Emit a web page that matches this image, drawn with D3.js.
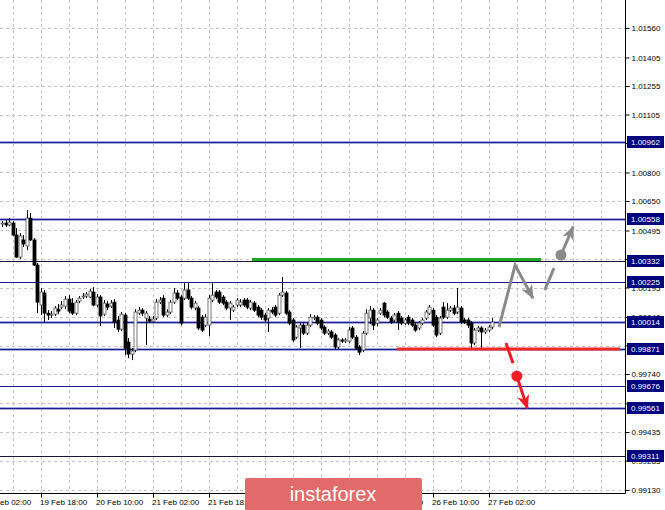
<!DOCTYPE html>
<html><head><meta charset="utf-8">
<script src="https://cdn.jsdelivr.net/npm/d3@7"></script>
<style>body{margin:0;background:#fff}svg{display:block}text{font-family:"Liberation Sans",Arial,sans-serif}</style>
</head><body><svg id="c" width="665" height="510"></svg>
<script>
// ---- data (H1 bars) ----
const opens=[1.00529,1.00534,1.00524,1.00534,1.00471,1.00355,1.00445,1.00413,1.00560,1.00445,
1.00313,1.00103,1.00166,1.00060,1.00050,1.00055,1.00081,1.00092,1.00097,1.00134,
1.00113,1.00060,1.00124,1.00145,1.00150,1.00145,1.00171,1.00103,1.00145,1.00055,
1.00108,1.00097,1.00118,1.00024,0.99976,1.00050,0.99908,0.99845,0.99866,1.00060,
1.00076,1.00034,1.00029,1.00018,1.00034,1.00118,1.00139,1.00050,1.00066,1.00118,
1.00166,1.00145,1.00139,1.00182,1.00139,1.00087,1.00087,1.00039,0.99997,0.99997,
1.00129,1.00171,1.00171,1.00145,1.00118,1.00087,1.00076,1.00103,1.00103,1.00129,
1.00129,1.00087,1.00113,1.00092,1.00076,1.00050,1.00034,1.00076,1.00092,1.00060,
1.00155,1.00166,1.00066,1.00024,0.99934,0.99982,0.99997,0.99955,0.99997,1.00034,
1.00039,1.00024,0.99987,0.99955,0.99961,0.99945,0.99882,0.99919,0.99913,0.99913,
0.99982,0.99934,0.99882,0.99866,0.99955,1.00034,1.00076,1.00008,1.00060,1.00113,
1.00066,1.00034,1.00024,1.00060,1.00034,1.00008,1.00039,1.00024,0.99997,0.99982,
1.00008,1.00034,1.00060,1.00076,1.00039,0.99955,1.00092,1.00039,1.00076,1.00087,
1.00066,1.00087,1.00024,1.00024,1.00008,0.99903,0.99971,0.99982,0.99961,0.99971,
0.99987];
const highs=[1.00545,1.00550,1.00560,1.00545,1.00508,1.00481,1.00471,1.00602,1.00587,1.00455,
1.00324,1.00192,1.00182,1.00076,1.00071,1.00097,1.00108,1.00124,1.00150,1.00155,
1.00139,1.00129,1.00150,1.00166,1.00171,1.00187,1.00197,1.00160,1.00155,1.00129,
1.00124,1.00129,1.00134,1.00045,1.00066,1.00060,0.99929,0.99876,1.00081,1.00092,
1.00087,1.00071,1.00045,1.00045,1.00134,1.00145,1.00155,1.00081,1.00129,1.00192,
1.00182,1.00155,1.00218,1.00218,1.00150,1.00124,1.00097,1.00050,1.00055,1.00155,
1.00224,1.00182,1.00182,1.00155,1.00129,1.00124,1.00103,1.00139,1.00134,1.00139,
1.00139,1.00129,1.00124,1.00103,1.00087,1.00060,1.00087,1.00092,1.00103,1.00166,
1.00250,1.00176,1.00076,1.00034,0.99997,1.00013,1.00008,1.00008,1.00055,1.00050,
1.00050,1.00034,0.99997,0.99976,0.99971,0.99955,0.99929,0.99929,0.99929,0.99987,
0.99992,0.99945,0.99892,0.99966,1.00081,1.00097,1.00087,1.00034,1.00087,1.00118,
1.00076,1.00045,1.00060,1.00071,1.00045,1.00034,1.00050,1.00034,1.00008,1.00018,
1.00034,1.00076,1.00103,1.00087,1.00050,1.00045,1.00118,1.00113,1.00097,1.00103,
1.00192,1.00097,1.00034,1.00034,1.00018,0.99982,0.99992,0.99992,0.99982,0.99997,
1.00034];
const lows=[1.00513,1.00513,1.00518,1.00466,1.00350,1.00345,1.00408,1.00392,1.00439,1.00308,
1.00060,1.00050,1.00013,1.00024,1.00034,1.00045,1.00055,1.00081,1.00081,1.00060,
1.00050,1.00050,1.00113,1.00134,1.00139,1.00139,1.00097,1.00092,0.99992,1.00045,
1.00076,1.00087,0.99982,0.99961,0.99966,0.99840,0.99824,0.99813,0.99855,1.00050,
1.00045,0.99892,1.00008,1.00008,1.00024,1.00108,1.00039,1.00039,1.00055,1.00108,
1.00129,0.99997,1.00129,1.00129,1.00081,1.00076,0.99971,0.99961,0.99987,0.99940,
1.00118,1.00134,1.00108,1.00103,1.00076,1.00024,1.00066,1.00092,1.00092,1.00092,
1.00081,1.00076,1.00066,1.00039,1.00024,1.00013,0.99961,1.00055,1.00039,1.00050,
1.00145,1.00050,0.99997,0.99908,0.99924,0.99876,0.99945,0.99945,0.99987,1.00024,
0.99997,0.99971,0.99945,0.99945,0.99924,0.99871,0.99871,0.99903,0.99903,0.99903,
0.99924,0.99866,0.99840,0.99855,0.99945,1.00003,0.99971,0.99992,1.00050,1.00039,
1.00029,1.00003,1.00013,0.99971,0.99997,0.99997,0.99997,0.99987,0.99961,0.99971,
0.99997,1.00024,1.00050,0.99987,0.99934,0.99945,1.00029,1.00029,1.00066,1.00050,
1.00055,1.00003,1.00003,0.99982,0.99876,0.99892,0.99961,0.99876,0.99950,0.99961,
0.99976];
const closes=[1.00534,1.00524,1.00539,1.00471,1.00355,1.00466,1.00424,1.00560,1.00445,1.00313,
1.00118,1.00171,1.00060,1.00050,1.00055,1.00087,1.00071,1.00103,1.00134,1.00071,
1.00060,1.00118,1.00139,1.00150,1.00160,1.00176,1.00103,1.00145,1.00045,1.00113,
1.00092,1.00113,1.00013,0.99976,1.00055,0.99876,0.99845,0.99861,1.00066,1.00076,
1.00060,1.00060,1.00018,1.00029,1.00118,1.00129,1.00050,1.00066,1.00118,1.00166,
1.00139,1.00008,1.00182,1.00139,1.00092,1.00113,0.99982,0.99971,1.00039,1.00139,
1.00155,1.00145,1.00118,1.00113,1.00087,1.00113,1.00092,1.00129,1.00118,1.00103,
1.00092,1.00118,1.00076,1.00050,1.00039,1.00024,1.00076,1.00066,1.00050,1.00155,
1.00171,1.00060,1.00008,0.99919,0.99987,0.99997,0.99955,0.99997,1.00039,1.00039,
1.00008,0.99982,0.99955,0.99966,0.99934,0.99882,0.99919,0.99913,0.99919,0.99971,
0.99934,0.99876,0.99855,0.99955,1.00060,1.00076,0.99997,1.00024,1.00076,1.00050,
1.00039,1.00013,1.00050,1.00013,1.00008,1.00024,1.00008,0.99997,0.99971,1.00008,
1.00024,1.00066,1.00092,0.99997,0.99945,1.00034,1.00039,1.00076,1.00087,1.00060,
1.00092,1.00013,1.00013,0.99997,0.99903,0.99971,0.99982,0.99961,0.99971,0.99987,
1.00013];

const yTickValues=[1.01560,1.01405,1.01255,1.01105,1.00955,1.00800,1.00650,1.00495,1.00345,1.00195,1.00040,0.99890,0.99740,0.99585,0.99435,0.99285,0.99130];
const xTickBars=[-5,11,27,43,59,75,91,107,123,139];
const xTickLabels=["19 Feb 02:00","19 Feb 18:00","20 Feb 10:00","21 Feb 02:00","21 Feb 18:00","22 Feb 10:00","25 Feb 02:00","25 Feb 18:00","26 Feb 10:00","27 Feb 02:00"];
const levels=[1.00962,1.00558,1.00332,1.00225,1.00014,0.99871,0.99676,0.99561,0.99311];
const greenLine=[[71.4,1.00342],[154,1.00342]];
const redLine=[[112.9,0.99871],[176.6,0.99871]];
const upPath=[[142,0.99987],[146.6,1.00313],[151.7,1.00139]];
const upDash=[[155.1,1.00182],[157.7,1.00297]];
const upDot=[159.7,1.00366];
const upArrow=[[159.7,1.00366],[163.2,1.00515]];
const downDash=[[144,0.99903],[146,0.99797]];
const downDot=[147.1,0.99729];
const downArrow=[[147.1,0.99729],[150.1,0.99560]];

// ---- layout ----
const svg=d3.select("#c");
const plotR=625, plotB=493;
const x=d3.scaleLinear().domain([0,178]).range([2,625]);
const y=d3.scaleLinear().domain([0.99130,1.01560]).range([490,28]);

svg.append("rect").attr("width",665).attr("height",510).attr("fill","#fff");
const defs=svg.append("defs");
defs.append("clipPath").attr("id","clip").append("rect").attr("x",0).attr("y",0).attr("width",plotR).attr("height",plotB);
function marker(id,color){
  defs.append("marker").attr("id",id).attr("markerUnits","userSpaceOnUse")
    .attr("viewBox","0 0 14 12").attr("markerWidth",14).attr("markerHeight",12)
    .attr("refX",13).attr("refY",6).attr("orient","auto")
    .append("path").attr("d","M0,0 L14,6 L0,12 L4,6 Z").attr("fill",color);
}
marker("ag","#8a8a8a"); marker("ar","#ee1c24");

const g=svg.append("g").attr("clip-path","url(#clip)");
// grid
const gridBars=d3.range(3,178,8);
g.selectAll(".vg").data(gridBars).join("line")
  .attr("x1",d=>Math.round(x(d))+0.5).attr("x2",d=>Math.round(x(d))+0.5).attr("y1",0).attr("y2",plotB)
  .attr("stroke","#c4c4c4").attr("stroke-dasharray","3,3");
g.selectAll(".hg").data(yTickValues).join("line")
  .attr("x1",0).attr("x2",plotR).attr("y1",d=>Math.round(y(d))+0.5).attr("y2",d=>Math.round(y(d))+0.5)
  .attr("stroke","#c4c4c4").attr("stroke-dasharray","3,3");

// level lines
const haloLevels=new Set([1.00962,1.00558,1.00014,0.99871,0.99561]);
const darkLevels=new Set([1.00332,0.99311]);
levels.forEach(v=>{
  const yy=Math.round(y(v))+0.5;
  if(haloLevels.has(v)) g.append("line").attr("x1",0).attr("x2",plotR).attr("y1",yy).attr("y2",yy)
      .attr("stroke","#a8a8e0").attr("stroke-width",3);
  g.append("line").attr("x1",0).attr("x2",plotR).attr("y1",yy).attr("y2",yy)
    .attr("stroke",darkLevels.has(v)?"#14143c":"#1e1e8c").attr("stroke-width",1);
});

// candles
const bars=opens.map((o,i)=>({i,o,h:highs[i],l:lows[i],c:closes[i]}));
const cg=g.append("g");
cg.selectAll(".wick").data(bars).join("line")
  .attr("x1",d=>Math.round(x(d.i))+0.5).attr("x2",d=>Math.round(x(d.i))+0.5)
  .attr("y1",d=>y(d.h)).attr("y2",d=>y(d.l)).attr("stroke","#000").attr("stroke-width",1);
cg.selectAll(".body").data(bars).join("rect")
  .attr("x",d=>Math.round(x(d.i))-1).attr("width",3)
  .attr("y",d=>y(Math.max(d.o,d.c))).attr("height",d=>Math.max(1,Math.abs(y(d.o)-y(d.c))))
  .attr("fill",d=>d.c>=d.o?"#fff":"#000").attr("stroke",d=>d.c>=d.o?"#555":"#000").attr("stroke-width",0.8);

// green & red lines
const line=d3.line().x(d=>x(d[0])).y(d=>y(d[1]));
g.append("path").attr("d",line(greenLine)).attr("stroke","#1fa81f").attr("stroke-width",3).attr("fill","none");
g.append("path").attr("d",line(redLine)).attr("stroke","#f02828").attr("stroke-width",3).attr("fill","none");

// scenario arrows
g.append("path").attr("d",line(upPath)).attr("stroke","#8a8a8a").attr("stroke-width",3).attr("fill","none")
  .attr("stroke-linejoin","miter").attr("marker-end","url(#ag)");
g.append("path").attr("d",line(upDash)).attr("stroke","#8a8a8a").attr("stroke-width",3);
g.append("path").attr("d",line(upArrow)).attr("stroke","#8a8a8a").attr("stroke-width",3).attr("marker-end","url(#ag)");
g.append("circle").attr("cx",x(upDot[0])).attr("cy",y(upDot[1])).attr("r",5.5).attr("fill","#8a8a8a");
g.append("path").attr("d",line(downDash)).attr("stroke","#ee1c24").attr("stroke-width",3);
g.append("path").attr("d",line(downArrow)).attr("stroke","#ee1c24").attr("stroke-width",3).attr("marker-end","url(#ar)");
g.append("circle").attr("cx",x(downDot[0])).attr("cy",y(downDot[1])).attr("r",5.5).attr("fill","#ee1c24");

// right axis (tick labels fully covered by a level box are not drawn)
const covered=v=>levels.some(l=>Math.abs(y(l)-y(v))<3);
const ya=svg.append("g").attr("transform",`translate(${plotR+0.5},0)`)
  .call(d3.axisRight(y).tickValues(yTickValues).tickFormat(d=>covered(d)?"":d3.format(".5f")(d)).tickSize(4).tickPadding(2));
ya.select(".domain").remove();
ya.selectAll("text").attr("font-size",8).attr("fill","#000").attr("font-family","Liberation Sans, Arial, sans-serif");
ya.selectAll("line").attr("stroke","#000");
svg.append("line").attr("x1",plotR+0.5).attr("x2",plotR+0.5).attr("y1",0).attr("y2",plotB+0.5).attr("stroke","#000");

// bottom axis
const xa=svg.append("g").attr("transform",`translate(0,${plotB+0.5})`)
  .call(d3.axisBottom(x).tickValues(xTickBars).tickFormat((d,i)=>xTickLabels[i]).tickSize(4).tickPadding(2));
xa.select(".domain").remove();
xa.selectAll(".tick line").attr("stroke","#000").attr("transform","translate(0.5,0)");
xa.selectAll("text").attr("font-size",8).attr("fill","#000").attr("text-anchor","start").attr("dx",-1)
  .attr("font-family","Liberation Sans, Arial, sans-serif");
svg.append("line").attr("x1",0).attr("x2",plotR+0.5).attr("y1",plotB+0.5).attr("y2",plotB+0.5).attr("stroke","#000");

// level labels
const lab=svg.append("g").selectAll("g").data(levels).join("g")
  .attr("transform",d=>`translate(${plotR+1},${Math.round(y(d))})`);
lab.append("rect").attr("x",1).attr("y",-6).attr("width",37).attr("height",12).attr("fill","#00007f");
lab.append("text").attr("x",5).attr("y",0).attr("dy","0.35em").attr("font-size",8).attr("fill","#fff")
  .text(d=>d3.format(".5f")(d));

// watermark
svg.append("rect").attr("x",245).attr("y",478).attr("width",177).attr("height",40).attr("rx",2).attr("fill","#e26a6a");
svg.append("text").attr("x",333).attr("y",501).attr("text-anchor","middle").attr("font-size",20)
  .attr("font-family","Open Sans, sans-serif").attr("fill","#fff").text("instaforex");
</script></body></html>
